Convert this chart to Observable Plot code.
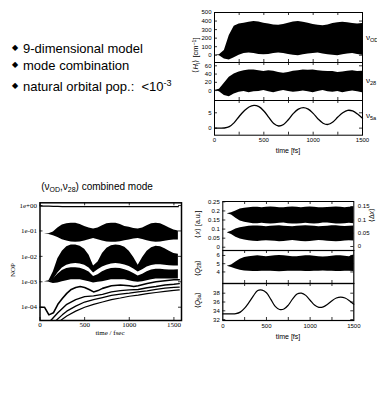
<!DOCTYPE html>
<html><head><meta charset="utf-8">
<script src="https://cdn.jsdelivr.net/npm/d3@7"></script>
<script src="https://cdn.jsdelivr.net/npm/@observablehq/plot@0.6"></script>
<style>
body{margin:0;background:#fff;}
#c{position:relative;width:377px;height:394px;overflow:hidden;font-family:"Liberation Sans",Arial,sans-serif;background:#fff;}
.t{position:absolute;white-space:pre;color:#000;line-height:1;}
.t sub{font-size:70%;vertical-align:-0.3em;line-height:0;}
.t sup{font-size:70%;vertical-align:0.5em;line-height:0;}
</style></head><body><div id="c"></div>
<script>
// ---------- data ----------
const T50 = [0,50,100,150,200,250,300,350,400,450,500,550,600,650,700,750,800,850,900,950,1000,1050,1100,1150,1200,1250,1300,1350,1400,1450,1500];
const T_NOP = [0,50,100,150,200,250,300,350,400,450,500,550,600,650,700,750,800,850,900,950,1000,1050,1100,1150,1200,1250,1300,1350,1400,1450,1500,1550];
const TIME_TICKS = [0,500,1000,1500];
const TIME_TICK_LABELS = ["0","500","1000","1500"];
const TIME_MINOR = [250,500,750,1000,1250];

// top right: <H_I> nu_OD
const HI_OD_TICKS = [0,100,200,300,400,500];
const HI_OD_HI = [0,5,55,230,340,365,375,385,395,390,375,365,355,350,360,375,390,395,385,375,360,350,345,355,370,380,385,380,370,365,370];
const HI_OD_LO = [0,-5,-45,-55,-30,0,20,25,20,10,5,10,20,25,20,10,0,-5,5,15,20,25,15,5,0,-5,5,15,20,10,0];
// <H_I> nu_28
const HI_28_TICKS = [0,20,40,60];
const HI_28_HI = [0,3,18,32,40,45,48,50,50,48,46,48,47,44,42,44,47,48,50,49,50,48,47,46,46,44,45,47,48,46,47];
const HI_28_LO = [0,-3,-12,-15,-8,-4,-2,-5,-3,-2,0,-3,-5,-2,0,-2,-4,-3,-1,-3,-5,-2,0,-3,-4,-2,-5,-3,-1,-3,-5];
// <H_I> nu_5a
const HI_5A_TICKS = [0,5];
const HI_5A = [0,0,0.05,0.5,1.8,3.8,5.6,6.9,7.4,7.0,5.6,3.5,1.5,0.7,1.2,2.8,4.8,6.2,6.7,6.2,4.8,3.0,1.6,1.2,2.0,3.6,5.0,5.8,5.6,4.6,3.2];

// bottom right: <x>
const X_TICKS = [0,0.05,0.1,0.15,0.2,0.25];
const X_TICK_LABELS = ["0","0.05","0.1","0.15","0.2","0.25"];
const DX_TICKS = [0,0.05,0.1,0.15];
const DX_TICK_LABELS = ["0","0.05","0.1","0.15"];
const X1_HI = [0.185,0.185,0.19,0.2,0.21,0.215,0.218,0.22,0.22,0.218,0.22,0.222,0.22,0.218,0.217,0.22,0.222,0.22,0.218,0.22,0.222,0.22,0.218,0.217,0.219,0.221,0.222,0.22,0.218,0.22,0.221];
const X1_LO = [0.185,0.185,0.178,0.16,0.145,0.138,0.133,0.13,0.13,0.132,0.13,0.128,0.13,0.132,0.134,0.13,0.128,0.128,0.13,0.132,0.13,0.128,0.13,0.133,0.134,0.131,0.128,0.128,0.13,0.132,0.13];
const X2_HI = [0.08,0.08,0.088,0.1,0.108,0.112,0.115,0.117,0.117,0.115,0.113,0.115,0.117,0.118,0.116,0.114,0.113,0.115,0.117,0.118,0.117,0.115,0.113,0.114,0.116,0.118,0.118,0.116,0.114,0.115,0.117];
const X2_LO = [0.08,0.08,0.07,0.055,0.045,0.04,0.036,0.033,0.032,0.034,0.036,0.035,0.033,0.03,0.032,0.035,0.037,0.035,0.032,0.03,0.032,0.035,0.037,0.036,0.033,0.031,0.03,0.032,0.035,0.036,0.034];
// <Q_28>
const Q28_TICKS = [4,5,6];
const Q28_TICK_LABELS = ["4","5","6"];
const Q28_HI = [4.7,4.7,4.85,5.2,5.55,5.75,5.85,5.9,5.95,5.9,5.85,5.9,5.95,6.0,5.95,5.9,5.85,5.85,5.9,5.95,5.95,5.9,5.85,5.8,5.85,5.9,5.95,5.95,5.9,5.85,6.05];
const Q28_LO = [4.7,4.7,4.55,4.35,4.2,4.12,4.08,4.05,4.05,4.08,4.1,4.08,4.05,4.02,4.05,4.08,4.1,4.1,4.08,4.05,4.05,4.08,4.1,4.12,4.1,4.08,4.05,4.05,4.08,4.1,4.05];
// <Q_5a>
const Q5A_TICKS = [32,34,36,38];
const Q5A = [33.3,33.3,33.3,33.35,33.7,34.6,35.9,37.4,38.6,38.7,38.1,36.6,35.0,34.3,34.4,35.3,36.7,37.8,38.0,37.5,36.4,35.3,34.8,34.9,35.5,36.3,36.9,37.1,36.9,36.3,35.5];

// bottom left: natural orbital populations
const NOP_TICKS = [1,0.1,0.01,0.001,0.0001];
const NOP_TICK_LABELS = ["1e+00","1e-01","1e-02","1e-03","1e-04"];
const NOP_A = [0.95,0.95,0.94,0.93,0.92,0.91,0.9,0.9,0.9,0.9,0.9,0.905,0.91,0.91,0.9,0.9,0.9,0.9,0.9,0.9,0.905,0.91,0.91,0.905,0.9,0.9,0.9,0.9,0.9,0.905,0.905,0.905];
const NOP_B_HI = [0.075,0.075,0.078,0.09,0.13,0.17,0.19,0.2,0.2,0.18,0.15,0.13,0.12,0.13,0.16,0.19,0.2,0.2,0.18,0.15,0.14,0.125,0.118,0.13,0.16,0.19,0.2,0.19,0.16,0.13,0.11,0.1];
const NOP_B_LO = [0.075,0.075,0.072,0.065,0.055,0.045,0.04,0.037,0.036,0.037,0.04,0.045,0.05,0.045,0.04,0.037,0.036,0.036,0.038,0.041,0.044,0.048,0.05,0.046,0.041,0.038,0.036,0.037,0.039,0.042,0.044,0.044];
const NOP_C_HI = [0.001,0.001,0.0011,0.0025,0.008,0.016,0.024,0.028,0.028,0.025,0.019,0.011,0.0042,0.006,0.013,0.021,0.026,0.028,0.027,0.023,0.016,0.009,0.0045,0.009,0.016,0.022,0.025,0.024,0.02,0.016,0.013,0.012];
const NOP_C_LO = [0.001,0.001,0.001,0.0012,0.0022,0.0035,0.0045,0.005,0.0052,0.005,0.0045,0.0035,0.0022,0.003,0.0038,0.0045,0.005,0.0052,0.005,0.0046,0.004,0.0032,0.0024,0.003,0.0038,0.0044,0.0047,0.0047,0.0045,0.0043,0.0042,0.0042];
const NOP_D_HI = [0.001,0.001,0.001,0.0013,0.002,0.0028,0.0033,0.0036,0.0036,0.0034,0.003,0.0024,0.0016,0.0019,0.0025,0.003,0.0033,0.0034,0.0033,0.003,0.0026,0.0021,0.0017,0.002,0.0025,0.0029,0.0031,0.0031,0.003,0.0029,0.0029,0.003];
const NOP_D_LO = [0.001,0.001,0.00095,0.00085,0.0009,0.001,0.0011,0.0012,0.0012,0.0012,0.0011,0.001,0.0009,0.00095,0.001,0.0011,0.0012,0.0012,0.0012,0.0012,0.0011,0.001,0.00095,0.001,0.0011,0.0012,0.0013,0.0013,0.0013,0.0013,0.0013,0.0013];
const E_T = [0,50,100,150,200,250,300,350,400,450,500,550,600,650,700,800,900,1000,1050,1100,1200,1300,1400,1500,1560];
const E_V = [1e-4,1e-4,5e-5,6e-5,1.3e-4,2.2e-4,3.5e-4,5e-4,6e-4,6.5e-4,6e-4,5e-4,4e-4,4.5e-4,5.5e-4,7e-4,7.5e-4,7e-4,6.5e-4,7e-4,8.5e-4,1e-3,1.1e-3,1.2e-3,1.2e-3];
const F_T = [120,200,300,400,500,600,700,800,900,1000,1100,1200,1300,1400,1500,1560];
const F_V = [3e-5,6e-5,1.3e-4,2e-4,2.6e-4,2.8e-4,3.2e-4,4e-4,4.5e-4,4.8e-4,5e-4,5.8e-4,6.5e-4,7.5e-4,8e-4,8.5e-4];
const G_T = [180,250,300,400,500,600,700,800,900,1000,1100,1200,1300,1400,1500,1560];
const G_V = [3e-5,5e-5,7e-5,1.1e-4,1.6e-4,2e-4,2.4e-4,2.9e-4,3.3e-4,3.6e-4,4e-4,4.4e-4,5e-4,5.6e-4,6e-4,6.2e-4];
const H_T = [230,300,400,500,600,700,800,900,1000,1100,1200,1300,1400,1500,1560];
const H_V = [3e-5,4.5e-5,7e-5,1e-4,1.3e-4,1.6e-4,2e-4,2.3e-4,2.7e-4,3e-4,3.4e-4,3.8e-4,4.2e-4,4.6e-4,4.8e-4];

// ---------- helpers ----------
const C = document.getElementById("c");
const SANS = "Liberation Sans, Arial, sans-serif";
const SERIF = "Liberation Serif, Times New Roman, serif";
function band(t, lo, hi){ return t.map((v,i)=>({t:v, lo:lo[i], hi:hi[i]})); }
function series(t, v){ return t.map((x,i)=>({t:x, v:v[i]})); }
function lab(ticks, labels){ return d => labels[ticks.indexOf(d)]; }
function put(svg, left, top){
  svg.style.position="absolute"; svg.style.left=left+"px"; svg.style.top=top+"px";
  svg.style.overflow="visible"; svg.style.background="transparent"; C.appendChild(svg);
}
function txt(html, x, y, size, o={}){
  const d=document.createElement("div"); d.className="t"; d.innerHTML=html;
  d.style.left=x+"px"; d.style.top=y+"px"; d.style.fontSize=size+"px";
  d.style.fontFamily = o.font || SANS;
  const ax = o.anchor==="start"?"0":o.anchor==="end"?"-100%":"-50%";
  d.style.transform=`translate(${ax},-50%)`+(o.rot?` rotate(${o.rot}deg)`:"");
  C.appendChild(d);
}
function inTicks(xt, yt, W, H, len=3){
  return [
    Plot.tickX(xt,{x:d=>d, insetTop:H-len, strokeWidth:0.8}),
    Plot.tickX(xt,{x:d=>d, insetBottom:H-len, strokeWidth:0.8}),
    Plot.tickY(yt,{y:d=>d, insetRight:W-len, strokeWidth:0.8}),
    Plot.tickY(yt,{y:d=>d, insetLeft:W-len, strokeWidth:0.8})
  ];
}
const styleSans = {fontSize:"6px", fontFamily:SANS, background:"transparent"};
const timeFmt = lab(TIME_TICKS, TIME_TICK_LABELS);

// ---------- left text ----------
txt("◆", 15, 48, 8);
txt("9-dimensional model", 23, 48, 13, {anchor:"start"});
txt("◆", 15, 65, 8);
txt("mode combination", 23, 65, 13, {anchor:"start"});
txt("◆", 15, 86, 8);
txt("natural orbital pop.:  &lt;10<sup>-3</sup>", 23, 86, 13, {anchor:"start"});

// ---------- top right panels ----------
const TRW = 148;
put(Plot.plot({width:187,height:62,marginLeft:24,marginRight:15,marginTop:12,marginBottom:0,style:styleSans,
  x:{domain:[0,1500],axis:null},
  y:{domain:[-85,500],ticks:HI_OD_TICKS,tickFormat:d=>String(d),tickSize:0,tickPadding:3,label:null},
  marks:[Plot.areaY(band(T50,HI_OD_LO,HI_OD_HI),{x:"t",y1:"lo",y2:"hi",fill:"black"}),
    ...inTicks(TIME_MINOR,HI_OD_TICKS,TRW,50), Plot.frame({strokeWidth:1})]}),190,0);
put(Plot.plot({width:187,height:38,marginLeft:24,marginRight:15,marginTop:0,marginBottom:0,style:styleSans,
  x:{domain:[0,1500],axis:null},
  y:{domain:[-24,68],ticks:HI_28_TICKS,tickFormat:d=>String(d),tickSize:0,tickPadding:3,label:null},
  marks:[Plot.areaY(band(T50,HI_28_LO,HI_28_HI),{x:"t",y1:"lo",y2:"hi",fill:"black"}),
    ...inTicks(TIME_MINOR,HI_28_TICKS,TRW,38), Plot.frame({strokeWidth:1})]}),190,62);
put(Plot.plot({width:187,height:60,marginLeft:24,marginRight:15,marginTop:0,marginBottom:25.3,style:styleSans,
  x:{domain:[0,1500],ticks:TIME_TICKS,tickFormat:timeFmt,tickSize:0,tickPadding:3,label:null},
  y:{domain:[-2.3,9],ticks:HI_5A_TICKS,tickFormat:d=>String(d),tickSize:0,tickPadding:3,label:null},
  marks:[Plot.line(series(T50,HI_5A),{x:"t",y:"v",stroke:"black",strokeWidth:1.3,curve:"catmull-rom"}),
    ...inTicks(TIME_MINOR,HI_5A_TICKS,TRW,34.7), Plot.frame({strokeWidth:1})]}),190,100);
txt("time [fs]", 288, 150, 7);
txt("⟨<i>H</i><sub>I</sub>⟩ [cm<sup>−1</sup>]", 196, 55, 7.5, {rot:-90});
txt("ν<sub>OD</sub>", 366, 38, 8, {anchor:"start"});
txt("ν<sub>28</sub>", 366, 81, 8, {anchor:"start"});
txt("ν<sub>5a</sub>", 366, 116, 8, {anchor:"start"});

// ---------- bottom left NOP ----------
txt("(ν<sub>OD</sub>,ν<sub>28</sub>) combined mode", 97, 187, 10);
put(Plot.plot({width:190,height:137,marginLeft:39.5,marginRight:9,marginTop:7.3,marginBottom:12,
  style:{fontSize:"7px",fontFamily:SERIF,background:"transparent"},
  x:{domain:[0,1585],ticks:TIME_TICKS,tickFormat:timeFmt,tickSize:0,tickPadding:2,label:null},
  y:{type:"log",domain:[3e-5,1.28],ticks:NOP_TICKS,tickFormat:lab(NOP_TICKS,NOP_TICK_LABELS),tickSize:0,tickPadding:3,label:null},
  marks:[
    Plot.areaY(band(T_NOP,NOP_B_LO,NOP_B_HI),{x:"t",y1:"lo",y2:"hi",fill:"black",clip:true}),
    Plot.areaY(band(T_NOP,NOP_C_LO,NOP_C_HI),{x:"t",y1:"lo",y2:"hi",fill:"black",clip:true}),
    Plot.areaY(band(T_NOP,NOP_D_LO,NOP_D_HI),{x:"t",y1:"lo",y2:"hi",fill:"black",clip:true}),
    Plot.line(series(E_T,E_V),{x:"t",y:"v",stroke:"black",strokeWidth:1.6,clip:true}),
    Plot.line(series(F_T,F_V),{x:"t",y:"v",stroke:"black",strokeWidth:1.4,clip:true}),
    Plot.line(series(G_T,G_V),{x:"t",y:"v",stroke:"black",strokeWidth:1.3,clip:true}),
    Plot.line(series(H_T,H_V),{x:"t",y:"v",stroke:"black",strokeWidth:1.2,clip:true}),
    Plot.line(series(T_NOP,NOP_A),{x:"t",y:"v",stroke:"black",strokeWidth:1.2,clip:true}),
    ...inTicks(TIME_TICKS,NOP_TICKS,141.5,117.7,3),
    Plot.frame({strokeWidth:1.5})]}),0,195);
txt("NOP", 13, 270, 7, {rot:-90, font:SERIF});
txt("time / fsec", 110, 333, 7, {font:SERIF});

// ---------- bottom right panels ----------
const BRW = 131;
put(Plot.plot({width:187,height:55,marginLeft:32.3,marginRight:23.7,marginTop:6,marginBottom:0,style:styleSans,
  x:{domain:[0,1500],axis:null},
  y:{domain:[-0.018,0.252],ticks:X_TICKS,tickFormat:lab(X_TICKS,X_TICK_LABELS),tickSize:0,tickPadding:3,label:null},
  marks:[
    Plot.areaY(band(T50,X1_LO,X1_HI),{x:"t",y1:"lo",y2:"hi",fill:"black"}),
    Plot.areaY(band(T50,X2_LO,X2_HI),{x:"t",y1:"lo",y2:"hi",fill:"black"}),
    Plot.tickX(TIME_MINOR,{x:d=>d, insetBottom:46, strokeWidth:0.8}),
    Plot.tickY(X_TICKS,{y:d=>d, insetRight:BRW-3, strokeWidth:0.8}),
    Plot.frame({strokeWidth:1})]}),190,195);
put(Plot.plot({width:187,height:55,marginLeft:32.3,marginRight:23.7,marginTop:6,marginBottom:0,style:styleSans,
  x:{domain:[0,1500],axis:null},
  y:{domain:[-0.015,0.169],axis:"right",ticks:DX_TICKS,tickFormat:lab(DX_TICKS,DX_TICK_LABELS),tickSize:0,tickPadding:4,label:null},
  marks:[Plot.tickY(DX_TICKS,{y:d=>d, insetLeft:BRW-3, strokeWidth:0.8})]}),190,195);
put(Plot.plot({width:187,height:33,marginLeft:32.3,marginRight:23.7,marginTop:0,marginBottom:0,style:styleSans,
  x:{domain:[0,1500],axis:null},
  y:{domain:[2.6,6.6],ticks:Q28_TICKS,tickFormat:lab(Q28_TICKS,Q28_TICK_LABELS),tickSize:0,tickPadding:3,label:null},
  marks:[Plot.areaY(band(T50,Q28_LO,Q28_HI),{x:"t",y1:"lo",y2:"hi",fill:"black"}),
    ...inTicks(TIME_MINOR,Q28_TICKS,BRW,33), Plot.frame({strokeWidth:1.2})]}),190,250);
put(Plot.plot({width:187,height:53,marginLeft:32.3,marginRight:23.7,marginTop:0,marginBottom:16,style:styleSans,
  x:{domain:[0,1500],ticks:TIME_TICKS,tickFormat:timeFmt,tickSize:0,tickPadding:3,label:null},
  y:{domain:[31.8,40.2],ticks:Q5A_TICKS,tickFormat:d=>String(d),tickSize:0,tickPadding:3,label:null},
  marks:[Plot.line(series(T50,Q5A),{x:"t",y:"v",stroke:"black",strokeWidth:1.2,curve:"catmull-rom"}),
    ...inTicks(TIME_MINOR,Q5A_TICKS,BRW,37), Plot.frame({strokeWidth:1.2})]}),190,283);
txt("time [fs]", 288, 336, 7);
txt("⟨<i>x</i>⟩ [a.u.]", 197, 224, 7, {rot:-90});
txt("⟨<i>Q</i><sub>28</sub>⟩", 197, 268, 7, {rot:-90});
txt("⟨<i>Q</i><sub>5a</sub>⟩", 197, 300, 7, {rot:-90});
txt("⟨Δ<i>x</i>⟩", 371, 215, 7, {rot:-90});
</script></body></html>
